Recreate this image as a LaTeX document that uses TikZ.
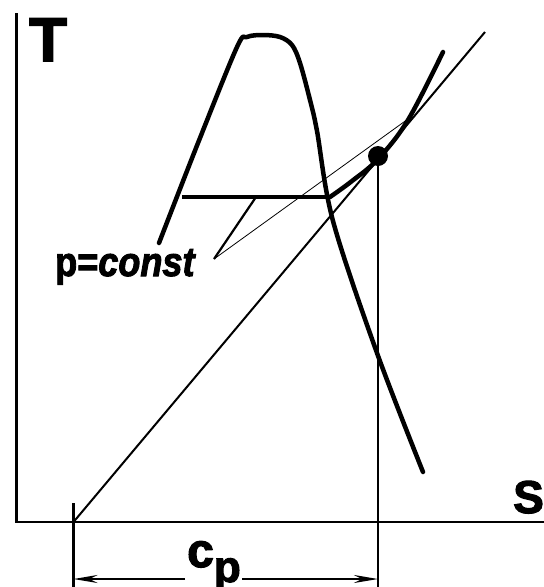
\documentclass[tikz,border=0pt]{standalone}
\usepackage{fontspec}
\setmainfont{Liberation Sans}
\newfontfamily\heavy[FakeBold=2.5]{Liberation Sans Bold}
\newfontfamily\heavyit[FakeBold=2.5]{Liberation Sans Bold Italic}
\usetikzlibrary{arrows.meta}
\begin{document}
\begin{tikzpicture}[x=1pt,y=-1pt,
  axis/.style={line width=2.8pt},
  curve/.style={line width=4.5pt,line cap=round,line join=round},
  thin line/.style={line width=2.2pt},
  hair/.style={line width=0.8pt},
  lbl/.style={inner sep=0pt}]
\useasboundingbox (0,0) rectangle (544,587);
% named points
\coordinate (O) at (73.5,522);
\coordinate (D) at (378,156);
\coordinate (TE) at (485,32);
\coordinate (HL) at (182,197);
\coordinate (HR) at (330,197);
\coordinate (HM) at (256,197);
\coordinate (LP) at (214,259);
\coordinate (LQ) at (408,119);
% axes
\draw[axis] (16.5,13) -- (16.5,522) -- (544,522);
\node[lbl,anchor=base west,font=\heavy\fontsize{62}{62}\selectfont] (T) at (29,61) {T};
\node[lbl,anchor=base west,font=\heavy\fontsize{46}{46}\selectfont] (S) at (513,513) {S};
% saturation dome
\draw[curve] plot[smooth,tension=0.55] coordinates {(159,243) (198,143) (237,47) (247,37) (263,35) (280,37) (292,45) (300,63) (310,100) (317,131) (333,221) (377,353) (423,472)};
% isobar
\draw[line width=3.2pt] (HL) -- (HR);
\draw[curve] plot[smooth,tension=0.6] coordinates {(HR) (352,181) (378,159) (408,120) (443,52)};
% tangent line from origin
\draw[line width=2pt] (O) -- (TE);
% dot and verticals
\fill (D) circle (10);
\draw[axis] (D) -- (378,587);
\draw[axis] (73.5,503) -- (73.5,587);
% leaders
\draw[thin line] (LP) -- (HM);
\draw[hair] (LP) -- (LQ);
\node[lbl,anchor=base west] (PC) at (55,276) {\scalebox{0.88}[1]{\fontsize{41}{41}\selectfont\heavy p=\heavyit const}};
% dimension c_p
\coordinate (AL) at (73.5,579);
\coordinate (AR) at (378,579);
\node[lbl,anchor=base west,font=\heavy\fontsize{48}{48}\selectfont] (CP) at (187,567) {c\raisebox{-15pt}{\fontsize{44}{44}\selectfont p}};
\draw[line width=2.2pt,-{Stealth[length=24pt,width=8pt]}] (185,579) -- (AL);
\draw[line width=2.2pt,-{Stealth[length=24pt,width=8pt]}] (242,579) -- (AR);
\end{tikzpicture}
\end{document}
